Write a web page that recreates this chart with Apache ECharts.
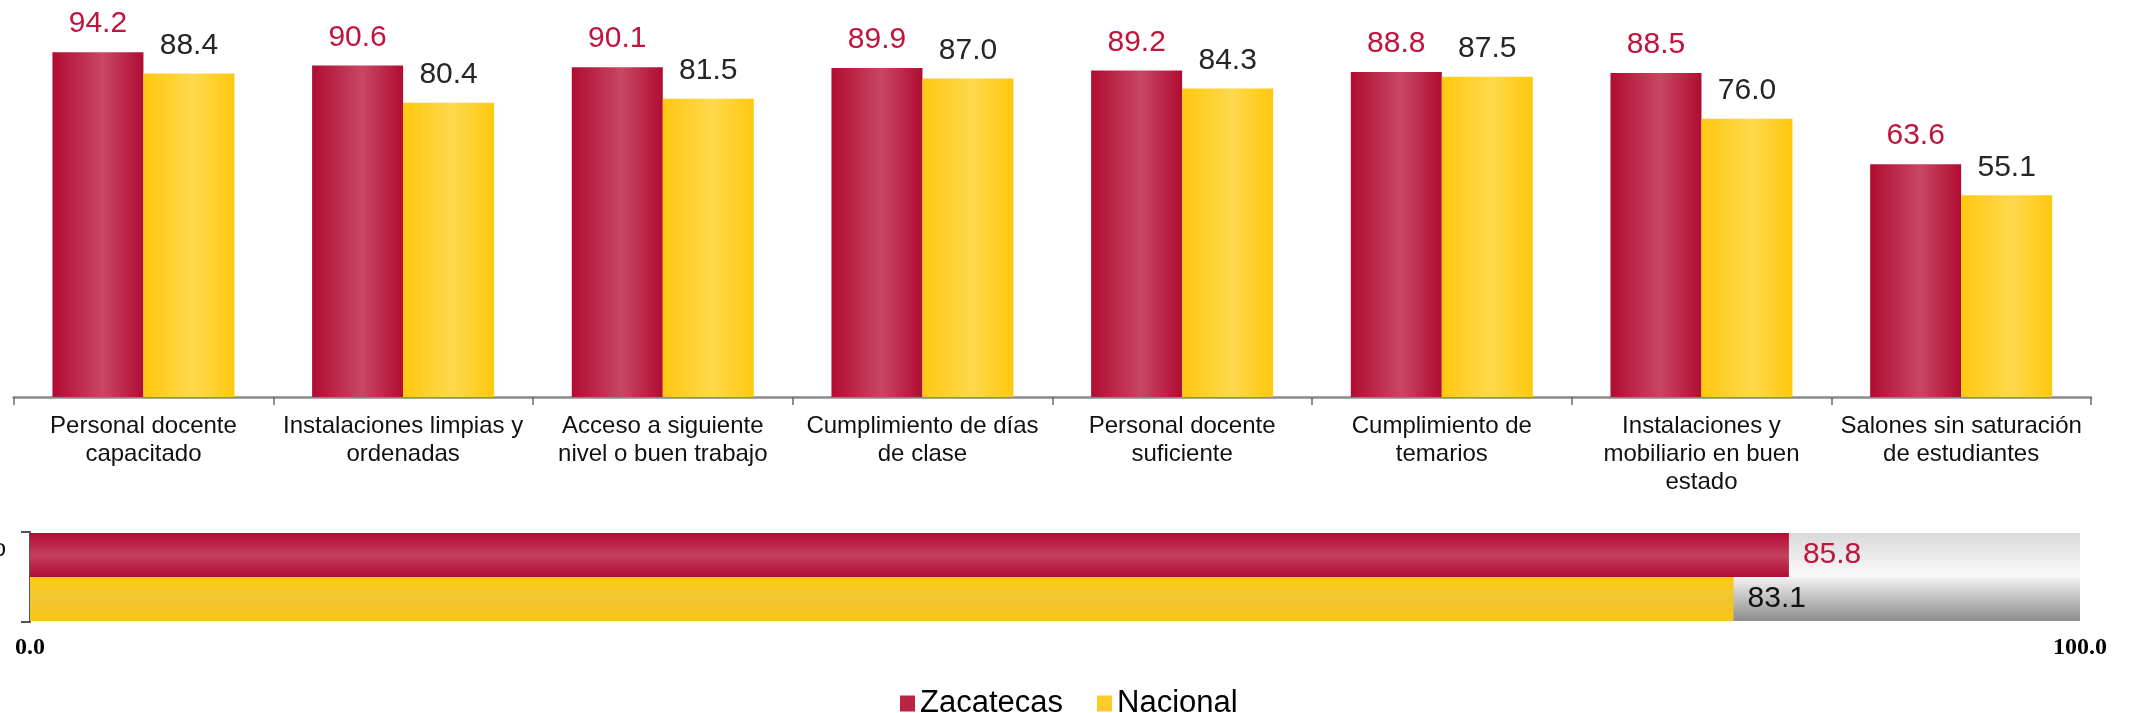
<!DOCTYPE html>
<html>
<head>
<meta charset="utf-8">
<script src="https://cdn.jsdelivr.net/npm/echarts@6/dist/echarts.min.js"></script>
<style>
  html, body { margin: 0; padding: 0; background: #fff; }
  #chart { width: 2133px; height: 713px; }
</style>
</head>
<body>
<div id="chart"></div>
<script>
const categories = [
  'Personal docente\ncapacitado',
  'Instalaciones limpias y\nordenadas',
  'Acceso a siguiente\nnivel o buen trabajo',
  'Cumplimiento de días\nde clase',
  'Personal docente\nsuficiente',
  'Cumplimiento de\ntemarios',
  'Instalaciones y\nmobiliario en buen\nestado',
  'Salones sin saturación\nde estudiantes'
]
const zacatecas = [94.2, 90.6, 90.1, 89.9, 89.2, 88.8, 88.5, 63.6]
const nacional = [88.4, 80.4, 81.5, 87.0, 84.3, 87.5, 76.0, 55.1]

const promedioLabel = ['Promedio']
const promedioZacatecas = [85.8]
const promedioNacional = [83.1]

const chart = echarts.init(document.getElementById('chart'))
const G = echarts.graphic.LinearGradient

const redCol = new G(0, 0, 1, 0, [
  { offset: 0, color: '#b00c32' },
  { offset: 0.55, color: '#c84762' },
  { offset: 1, color: '#b00c32' }
])
const yellowCol = new G(0, 0, 1, 0, [
  { offset: 0, color: '#ffc810' },
  { offset: 0.55, color: '#ffd84c' },
  { offset: 1, color: '#ffc80e' }
])
const redRow = new G(0, 0, 0, 1, [
  { offset: 0, color: '#b00c32' },
  { offset: 0.5, color: '#c5405e' },
  { offset: 1, color: '#b00c32' }
])
const yellowRow = new G(0, 0, 0, 1, [
  { offset: 0, color: '#fdca14' },
  { offset: 0.5, color: '#f0c533' },
  { offset: 1, color: '#f8c612' }
])
const bgTop = new G(0, 0, 0, 1, [
  { offset: 0, color: '#d9d9d9' },
  { offset: 1, color: '#fbfbfb' }
])
const bgBottom = new G(0, 0, 0, 1, [
  { offset: 0, color: '#f2f2f2' },
  { offset: 1, color: '#8c8c8c' }
])

const font = 'Arial, "Liberation Sans", sans-serif'
const fmt = p => p.value.toFixed(1)

const option = {
  animation: false,
  legend: {
    left: 895,
    top: 683,
    itemWidth: 15,
    itemHeight: 16,
    itemGap: 34,
    icon: 'rect',
    textStyle: { fontFamily: font, fontSize: 31, color: '#000' },
    data: [
      { name: 'Zacatecas', itemStyle: { color: '#bb2445' } },
      { name: 'Nacional', itemStyle: { color: '#fdca2a' } }
    ]
  },
  grid: [
    { left: 13.6, right: 42, top: 31, bottom: 316, outerBoundsMode: 'none' },
    { left: 30, right: 53, top: 532, height: 90, outerBoundsMode: 'none' }
  ],
  xAxis: [
    {
      type: 'category',
      gridIndex: 0,
      data: categories,
      axisLine: { lineStyle: { color: '#8a8a8a', width: 2.5 } },
      axisTick: { show: true, length: 8, lineStyle: { color: '#6a6a6a', width: 1.5 } },
      axisLabel: {
        interval: 0,
        margin: 15,
        fontFamily: font,
        fontSize: 24,
        lineHeight: 28,
        color: '#111'
      }
    },
    {
      type: 'value',
      gridIndex: 1,
      min: 0,
      max: 100,
      interval: 100,
      axisLine: { show: false },
      axisTick: { show: false },
      splitLine: { show: false },
      axisLabel: {
        margin: 14,
        fontFamily: '"Liberation Serif", "Times New Roman", serif',
        fontWeight: 'bold',
        fontSize: 24,
        color: '#000',
        formatter: v => v.toFixed(1)
      }
    }
  ],
  yAxis: [
    { type: 'value', gridIndex: 0, min: 0, max: 100, show: false },
    {
      type: 'category',
      gridIndex: 1,
      data: promedioLabel,
      inverse: true,
      axisLine: { lineStyle: { color: '#555', width: 2 } },
      axisTick: { show: true, length: 9, lineStyle: { color: '#555', width: 2 } },
      axisLabel: {
        margin: 24,
        fontFamily: font,
        fontSize: 24,
        lineHeight: 28,
        color: '#111',
        formatter: v => v + '\n \n '
      }
    }
  ],
  series: [
    {
      name: 'Zacatecas',
      type: 'bar',
      xAxisIndex: 0,
      yAxisIndex: 0,
      data: zacatecas,
      barWidth: 91,
      barGap: '0%',
      itemStyle: { color: redCol },
      label: {
        show: true, position: 'top', distance: 13, formatter: fmt,
        fontFamily: font, fontSize: 30, color: '#c0143c'
      }
    },
    {
      name: 'Nacional',
      type: 'bar',
      xAxisIndex: 0,
      yAxisIndex: 0,
      data: nacional,
      barWidth: 91,
      barGap: '0%',
      itemStyle: { color: yellowCol },
      label: {
        show: true, position: 'top', distance: 13, formatter: fmt,
        fontFamily: font, fontSize: 30, color: '#262626'
      }
    },
    {
      name: 'Zacatecas',
      type: 'bar',
      xAxisIndex: 1,
      yAxisIndex: 1,
      data: promedioZacatecas,
      barWidth: 44,
      barGap: '0%',
      showBackground: true,
      backgroundStyle: { color: bgTop },
      itemStyle: { color: redRow },
      label: {
        show: true, position: 'right', distance: 14, formatter: fmt,
        fontFamily: font, fontSize: 30, color: '#c0143c'
      }
    },
    {
      name: 'Nacional',
      type: 'bar',
      xAxisIndex: 1,
      yAxisIndex: 1,
      data: promedioNacional,
      barWidth: 44,
      barGap: '0%',
      showBackground: true,
      backgroundStyle: { color: bgBottom },
      itemStyle: { color: yellowRow },
      label: {
        show: true, position: 'right', distance: 14, formatter: fmt,
        fontFamily: font, fontSize: 30, color: '#111'
      }
    }
  ]
}

chart.setOption(option)
window.addEventListener('resize', () => chart.resize())
</script>
</body>
</html>
